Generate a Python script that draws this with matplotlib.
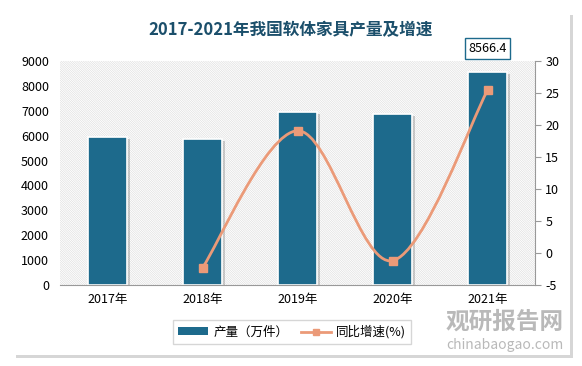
import matplotlib
matplotlib.use("Agg")
import matplotlib.pyplot as plt
import matplotlib.patheffects as pe
from matplotlib.path import Path
from matplotlib.patches import PathPatch, Rectangle
from matplotlib.lines import Line2D
import numpy as np

plt.rcParams['font.family'] = ['Noto Sans CJK SC', 'DejaVu Sans']
plt.rcParams['hatch.color'] = '#dadada'
plt.rcParams['hatch.linewidth'] = 0.4

years = ["2017年", "2018年", "2019年", "2020年", "2021年"]
output = [5960, 5855, 6940, 6858, 8566.4]
growth_years_idx = [1, 2, 3, 4]
growth = [-2.3, 19.1, -1.2, 25.4]
left_ticks = [0, 1000, 2000, 3000, 4000, 5000, 6000, 7000, 8000, 9000]
right_ticks = [-5, 0, 5, 10, 15, 20, 25, 30]

bar_color = '#1d6a8c'
line_color = '#eb9a78'
title_color = '#1b4f6b'

fig = plt.figure(figsize=(5.82, 3.66), dpi=100)
fig.patch.set_facecolor('white')

# card with shadow
card = Rectangle((13/582, 1-355/366), (570-13)/582, (355-12)/366, transform=fig.transFigure,
                 facecolor='white', edgecolor='none', zorder=-10,
                 path_effects=[pe.SimplePatchShadow(offset=(2, -2), shadow_rgbFace='#bbbbbb', alpha=0.6), pe.Normal()])
fig.patches.append(card)

ax = fig.add_axes([60/582, 1-285/366, (535-60)/582, (285-61)/366])
ax.patch.set_alpha(0)
ax.add_patch(Rectangle((0, 0), 1, 1, transform=ax.transAxes, facecolor='none',
                       edgecolor='#dadada', hatch='\\' * 15, linewidth=0, zorder=0))
x = np.arange(len(years))
bars = ax.bar(x, output, width=0.42, color=bar_color, edgecolor='white', linewidth=1.2, zorder=2)
for b in bars:
    b.set_path_effects([pe.SimplePatchShadow(offset=(2, -1.5), shadow_rgbFace='#666666', alpha=0.3), pe.Normal()])
ax.set_xlim(-0.5, len(years) - 0.5)
ax.set_ylim(0, 9000)
ax.set_yticks(left_ticks)
ax.set_yticklabels([str(t) for t in left_ticks], fontsize=9)
ax.set_xticks(x)
ax.set_xticklabels(years, fontsize=9)
ax.tick_params(axis='y', length=0, pad=8)
ax.tick_params(axis='x', length=0, pad=6)
for s in ['top', 'right', 'left']:
    ax.spines[s].set_visible(False)
ax.spines['bottom'].set_color('#999999')

ax.annotate(f"{output[-1]:.1f}", xy=(x[-1], output[-1]), xytext=(0, 12), textcoords='offset points',
            ha='center', va='bottom', fontsize=9,
            bbox=dict(boxstyle='square,pad=0.3', facecolor='white', edgecolor=bar_color, linewidth=1))

ax2 = ax.twinx()
ax2.patch.set_alpha(0)
ax2.set_ylim(-5, 30)
ax2.set_yticks(right_ticks)
ax2.set_yticklabels([str(t) for t in right_ticks], fontsize=9)
ax2.tick_params(axis='y', length=4, color='#999999', direction='out')
for s in ['top', 'left', 'bottom']:
    ax2.spines[s].set_visible(False)
ax2.spines['right'].set_color('#999999')

# smooth curve (Catmull-Rom as cubic Bezier) through the data points
gx = np.array([x[i] for i in growth_years_idx], dtype=float)
gy = np.array(growth, dtype=float)
verts = [(gx[0], gy[0])]
codes = [Path.MOVETO]
n = len(gx)
for i in range(n - 1):
    p0 = (gx[i-1], gy[i-1]) if i > 0 else (gx[i], gy[i])
    p1 = (gx[i], gy[i]); p2 = (gx[i+1], gy[i+1])
    p3 = (gx[i+2], gy[i+2]) if i + 2 < n else (gx[i+1], gy[i+1])
    c1 = (p1[0] + (p2[0]-p0[0])/6, p1[1] + (p2[1]-p0[1])/6)
    c2 = (p2[0] - (p3[0]-p1[0])/6, p2[1] - (p3[1]-p1[1])/6)
    verts += [c1, c2, p2]
    codes += [Path.CURVE4]*3
ax2.add_patch(PathPatch(Path(verts, codes), facecolor='none', edgecolor=line_color, linewidth=2, zorder=3))
ax2.plot(gx, gy, linestyle='none', marker='s', markersize=6, color=line_color, zorder=4)

fig.text(0.5, 1-30/366, "2017-2021年我国软体家具产量及增速", ha='center', va='center',
         fontsize=12, fontweight='bold', color=title_color)

# legend
handles = [Rectangle((0, 0), 1, 1, facecolor=bar_color, edgecolor='none'),
           Line2D([0], [0], color=line_color, marker='s', markersize=5, linewidth=2)]
fig.legend(handles, ["产量（万件）", "同比增速(%)"], loc='center', bbox_to_anchor=(292/582, 1-332/366),
           ncol=2, fontsize=9, frameon=True, fancybox=False, edgecolor='#cccccc',
           handlelength=2.4, handleheight=0.6, columnspacing=1.0, handletextpad=0.4, borderpad=0.4)

# watermark
fig.text(505/582, 1-322/366, "观研报告网", ha='center', va='center', fontsize=17, fontweight='bold', color='#a8a8a8', alpha=0.8)
fig.text(505/582, 1-345/366, "chinabaogao.com", ha='center', va='center', fontsize=10, color='#a8a8a8', alpha=0.8)

fig.savefig("out.png", dpi=100, facecolor=fig.get_facecolor())
